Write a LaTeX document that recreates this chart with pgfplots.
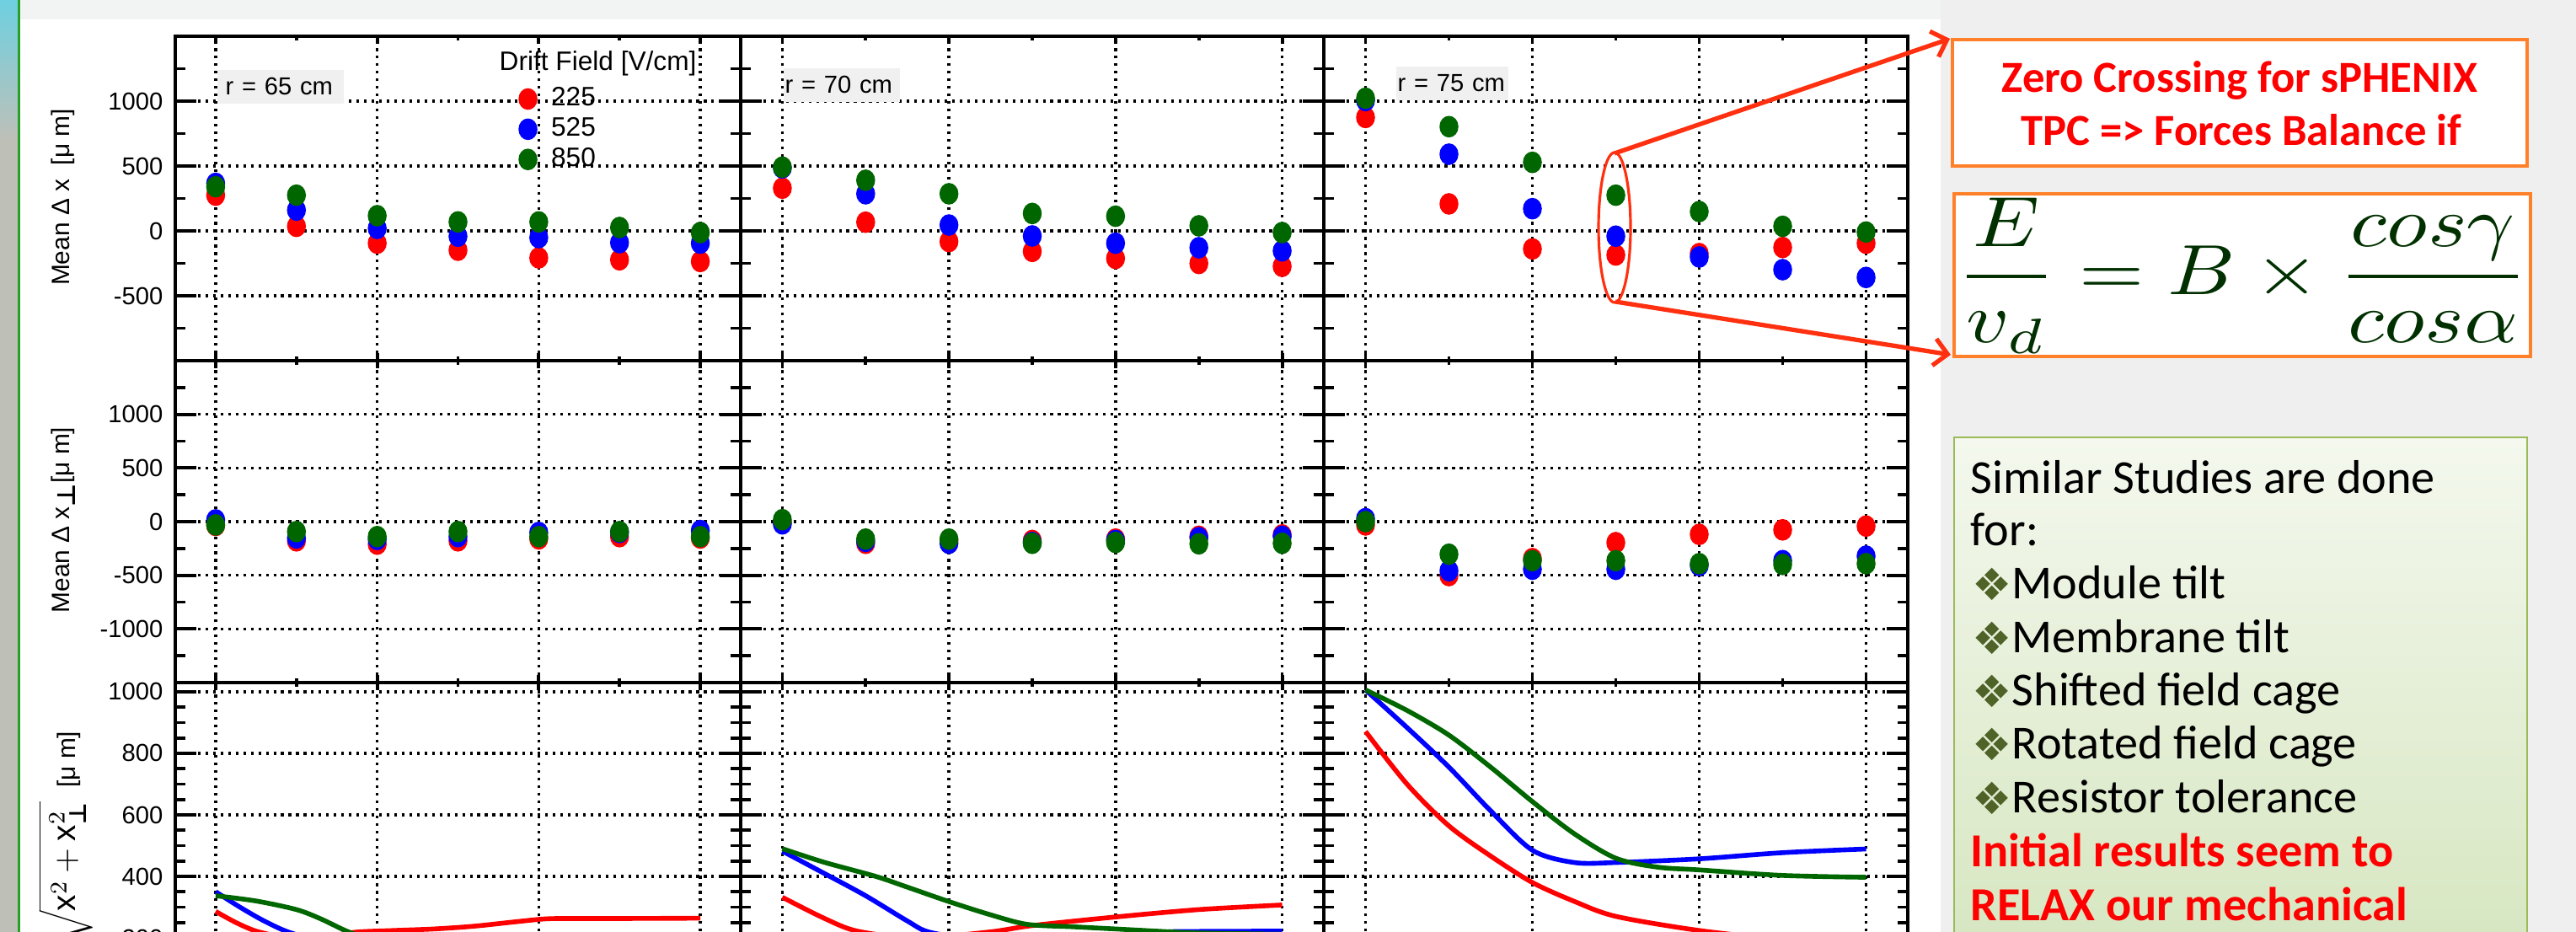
\documentclass[border=0pt]{standalone}
\usepackage{graphicx}
\usepackage{pgfplots}
\pgfplotsset{compat=1.18}
\usepackage{pgfplotstable}
\usepackage{fontspec}
\setmainfont{Liberation Sans}
\newfontfamily\carlito{Carlito}
\newfontfamily\dejavu{DejaVu Sans}
\usetikzlibrary{arrows.meta}

\definecolor{rred}{RGB}{255,0,0}
\definecolor{rblue}{RGB}{0,0,255}
\definecolor{rgreen}{RGB}{0,102,0}
\definecolor{boxorange}{RGB}{255,128,40}
\definecolor{arrowred}{RGB}{255,48,16}
\definecolor{eqgreen}{RGB}{0,48,0}
\definecolor{bulletolive}{RGB}{79,98,40}
\definecolor{slidegray}{RGB}{239,239,239}
\definecolor{topgray}{RGB}{242,243,243}
\definecolor{leftgray}{RGB}{190,192,184}
\definecolor{tealbg}{RGB}{110,208,224}
\definecolor{linegreen}{RGB}{40,160,40}
\definecolor{paveg}{RGB}{240,240,240}
\definecolor{boxtop}{RGB}{244,248,238}
\definecolor{boxbot}{RGB}{214,230,192}
\definecolor{boxline}{RGB}{155,187,89}

% ---------- data: mean Delta x (row 1) ----------
\pgfplotstableread{
x r b g
0 275 366 340
1 35 160 275
2 -95 19 117
3 -149 -41 69
4 -208 -52 69
5 -223 -91 26
6 -236 -95 -13
}\tAa
\pgfplotstableread{
x r b g
0 329 485 491
1 67 286 390
2 -82 45 286
3 -158 -39 134
4 -212 -95 113
5 -251 -130 39
6 -273 -154 -13
}\tAb
\pgfplotstableread{
x r b g
0 874 1004 1022
1 208 591 803
2 -139 171 528
3 -186 -41 275
4 -175 -201 149
5 -128 -299 35
6 -95 -359 -9
}\tAc
% ---------- data: mean Delta x_perp (row 2) ----------
\pgfplotstableread{
x r b g
0 -36 16 -31
1 -179 -153 -93
2 -210 -166 -140
3 -179 -140 -93
4 -161 -101 -140
5 -140 -101 -93
6 -153 -83 -140
}\tBa
\pgfplotstableread{
x r b g
0 -8 -21 18
1 -202 -184 -163
2 -176 -202 -163
3 -176 -194 -202
4 -163 -176 -194
5 -137 -150 -207
6 -124 -137 -202
}\tBb
\pgfplotstableread{
x r b g
0 -31 28 0
1 -503 -458 -304
2 -345 -444 -364
3 -196 -444 -364
4 -119 -409 -392
5 -77 -364 -399
6 -42 -322 -392
}\tBc

\pgfplotsset{
 panel/.style={
  scale only axis, anchor=south west,
  xmin=-0.5, xmax=6.5,
  xtick={0,2,4,6}, minor xtick={1,3,5}, xticklabels={},
  tick align=inside, tick pos=both,
  axis line style={line width=1.4pt},
  tick style={black, line width=1.1pt},
  xtick style={/pgfplots/major tick length=0.09cm, /pgfplots/minor tick length=0.05cm},
  ytick style={/pgfplots/major tick length=0.25cm, /pgfplots/minor tick length=0.12cm},
  xmajorgrids, ymajorgrids,
  major grid style={black, line width=1pt, dash pattern=on 0.9pt off 1.65pt},
  yticklabel style={font=\fontsize{8.3}{9}\selectfont, inner sep=0pt, xshift=-0.14cm},
 },
 rowA/.style={height=3.85cm, ymin=-1000, ymax=1500, ytick={-500,0,500,1000}, minor ytick={-750,-250,250,750,1250}},
 rowB/.style={height=3.82cm, ymin=-1500, ymax=1500, ytick={-1000,-500,0,500,1000}, minor ytick={-1250,-750,-250,250,750,1250}},
 rowC/.style={height=3.76cm, ymin=0, ymax=1030, ytick={0,200,400,600,800,1000}, minor ytick={50,100,150,250,300,350,450,500,550,650,700,750,850,900,950}},
 pts/.style={only marks, mark=*, mark size=3.0pt, mark options={yscale=1.15}},
 crv/.style={no marks, smooth, line width=1.6pt},
}

\begin{document}
\begin{tikzpicture}[x=1cm,y=1cm]
\useasboundingbox (0,0) rectangle (30.57,11.06);
\clip (0,0) rectangle (30.57,11.06);
% ---------- slide background ----------
\fill[white] (0,0) rectangle (30.57,11.06);
\fill[slidegray] (23.03,0) rectangle (30.57,11.06);
\fill[topgray] (0.245,10.83) rectangle (23.03,11.06);
\fill[leftgray] (0,0) rectangle (0.215,11.06);
\shade[top color=tealbg, bottom color=leftgray] (0,9.4) rectangle (0.215,11.06);
\fill[linegreen] (0.215,0) rectangle (0.245,11.06);

% ================= ROW 1 =================
\begin{axis}[panel, rowA, at={(2.08cm,6.78cm)}, width=6.71cm,
  yticklabels={-500,0,500,1000},
  legend style={at={(0.607,0.849)}, anchor=north west, draw=none, fill=none,
    inner sep=0pt, row sep=0.045cm, font=\fontsize{9}{10}\selectfont,
    nodes={inner sep=0.02cm}},
  legend image code/.code={\draw[#1] plot coordinates {(0.11cm,0cm)};}]
\addplot[pts, rred] table[x=x,y=r]{\tAa};
\addplot[pts, rblue] table[x=x,y=b]{\tAa};
\addplot[pts, rgreen] table[x=x,y=g]{\tAa};
\legend{\hspace{0.15cm}225,\hspace{0.15cm}525,\hspace{0.15cm}850}
\end{axis}
\begin{axis}[panel, rowA, at={(8.79cm,6.78cm)}, width=6.92cm, yticklabels={}]
\addplot[pts, rred] table[x=x,y=r]{\tAb};
\addplot[pts, rblue] table[x=x,y=b]{\tAb};
\addplot[pts, rgreen] table[x=x,y=g]{\tAb};
\end{axis}
\begin{axis}[panel, rowA, at={(15.71cm,6.78cm)}, width=6.93cm, yticklabels={}]
\addplot[pts, rred] table[x=x,y=r]{\tAc};
\addplot[pts, rblue] table[x=x,y=b]{\tAc};
\addplot[pts, rgreen] table[x=x,y=g]{\tAc};
\end{axis}

% ================= ROW 2 =================
\begin{axis}[panel, rowB, at={(2.08cm,2.96cm)}, width=6.71cm,
  yticklabels={-1000,-500,0,500,1000}]
\addplot[pts, rred] table[x=x,y=r]{\tBa};
\addplot[pts, rblue] table[x=x,y=b]{\tBa};
\addplot[pts, rgreen] table[x=x,y=g]{\tBa};
\end{axis}
\begin{axis}[panel, rowB, at={(8.79cm,2.96cm)}, width=6.92cm, yticklabels={}]
\addplot[pts, rred] table[x=x,y=r]{\tBb};
\addplot[pts, rblue] table[x=x,y=b]{\tBb};
\addplot[pts, rgreen] table[x=x,y=g]{\tBb};
\end{axis}
\begin{axis}[panel, rowB, at={(15.71cm,2.96cm)}, width=6.93cm, yticklabels={}]
\addplot[pts, rred] table[x=x,y=r]{\tBc};
\addplot[pts, rblue] table[x=x,y=b]{\tBc};
\addplot[pts, rgreen] table[x=x,y=g]{\tBc};
\end{axis}

% ================= ROW 3 =================
\begin{axis}[panel, rowC, at={(2.08cm,-0.80cm)}, width=6.71cm,
  yticklabels={0,200,400,600,800,1000}]
\addplot[crv, rred] table {
x y
0 286
0.25 250
0.5 222
0.8 205
1.1 200
1.4 206
1.75 219
2.2 224
2.7 229
3.2 238
3.7 252
4.1 262
4.5 263
5 263
6 264
};
\addplot[crv, rblue] table {
x y
0 350
0.3 300
0.6 255
0.9 219
1.3 190
1.7 172
2.5 162
4 160
6 165
};
\addplot[crv, rgreen] table {
x y
0 337
0.5 320
1 292
1.3 262
1.65 219
2 192
2.5 180
3 176
4 175
6 175
};
\end{axis}
\begin{axis}[panel, rowC, at={(8.79cm,-0.80cm)}, width=6.92cm, yticklabels={}]
\addplot[crv, rred] table {
x y
0 332
0.5 264
0.9 222
1.6 200
2.48 219
3 240
4 268
5 292
6 307
};
\addplot[crv, rblue] table {
x y
0 482
0.5 410
1 337
1.5 255
1.76 219
2.3 197
3 190
4 202
4.6 219
5 221
6 222
};
\addplot[crv, rgreen] table {
x y
0 490
0.5 446
1.12 400
1.5 365
2 318
2.5 275
2.94 244
3.5 236
4 229
4.7 219
5 216
6 212
};
\end{axis}
\begin{axis}[panel, rowC, at={(15.71cm,-0.80cm)}, width=6.93cm, yticklabels={}]
\addplot[crv, rred] table {
x y
0 871
0.5 699
1 564
1.5 466
2 380
2.5 319
3 270
4 224
5 195
6 175
};
\addplot[crv, rblue] table {
x y
0 1006
0.5 883
1 755
1.5 613
2 485
2.5 445
3 445
4 457
5 477
6 489
};
\addplot[crv, rgreen] table {
x y
0 1006
0.5 939
1 859
1.5 755
2 643
2.5 539
3 459
3.5 430
4 421
5 403
6 397
};
\end{axis}

% ---------- axis titles ----------
\node[rotate=90, font=\fontsize{8.5}{9}\selectfont] at (0.75,8.72) {Mean Δ x\ \ [μ m]};
\node[rotate=90, font=\fontsize{8.5}{9}\selectfont] at (0.75,4.89) {Mean Δ x\raisebox{-0.45ex}{\dejavu\bfseries ⊥}[μ m]};
\node[rotate=90, font=\fontsize{8.5}{9}\selectfont] at (0.78,1.14) {{\fontsize{11}{13}\selectfont$\sqrt{\mbox{x}^{2}+\mbox{x}^{2}_{\mbox{\dejavu\bfseries\fontsize{8}{8}\selectfont ⊥}}}$}\ \ [μ m]};

% ---------- pad labels ----------
\node[anchor=north west, fill=paveg, minimum height=0.40cm, text width=1.30cm, inner xsep=0.10cm, inner ysep=0pt, align=left, font=\fontsize{8.3}{9}\selectfont] at (2.57,10.24) {r = 65 cm};
\node[anchor=north west, fill=paveg, minimum height=0.40cm, text width=1.34cm, inner xsep=0.02cm, inner ysep=0pt, align=left, font=\fontsize{8.3}{9}\selectfont] at (9.29,10.26) {r = 70 cm};
\node[anchor=north west, fill=paveg, minimum height=0.40cm, text width=1.29cm, inner xsep=0.02cm, inner ysep=0pt, align=left, font=\fontsize{8.3}{9}\selectfont] at (16.56,10.28) {r = 75 cm};
\node[anchor=base west, inner sep=0pt, font=\fontsize{9}{10}\selectfont] at (5.92,10.22) {Drift Field [V/cm]};

% ---------- right-hand boxes ----------
\draw[boxorange, line width=1.2pt, fill=white] (23.17,9.09) rectangle (29.99,10.59);
\node[anchor=base, inner sep=0pt, text=rred, font=\carlito\bfseries\fontsize{15}{18}\selectfont] at (26.58,9.96) {Zero Crossing for sPHENIX};
\node[anchor=base, inner sep=0pt, text=rred, font=\carlito\bfseries\fontsize{15}{18}\selectfont] at (26.60,9.33) {TPC => Forces Balance if};

\draw[boxorange, line width=1.2pt, fill=white] (23.19,6.83) rectangle (30.03,8.76);
\node[inner sep=0pt, text=eqgreen] at (26.61,7.79) {\resizebox*{6.78cm}{1.85cm}{$\displaystyle\frac{E}{v_d}=B\times\frac{cos\gamma}{cos\alpha}$}};

\shade[top color=boxtop, bottom color=boxbot] (23.19,-0.3) rectangle (29.99,5.87);
\draw[boxline, line width=0.6pt] (23.19,-0.3) rectangle (29.99,5.87);
\begin{scope}[every node/.style={anchor=base west, inner sep=0pt, font=\carlito\fontsize{16}{19}\selectfont}]
\node at (23.38,5.20) {Similar Studies are done};
\node at (23.38,4.58) {for:};
\node at (23.87,3.95) {Module tilt};
\node at (23.87,3.31) {Membrane tilt};
\node at (23.87,2.68) {Shifted field cage};
\node at (23.87,2.05) {Rotated field cage};
\node at (23.87,1.41) {Resistor tolerance};
\node[text=rred, font=\carlito\bfseries\fontsize{16}{19}\selectfont] at (23.38,0.77) {Initial results seem to};
\node[text=rred, font=\carlito\bfseries\fontsize{16}{19}\selectfont] at (23.38,0.13) {RELAX our mechanical};
\foreach \yy in {3.95,3.31,2.68,2.05,1.41}
  \node[text=bulletolive, font=\dejavu\fontsize{15}{17}\selectfont] at (23.40,\yy-0.02) {❖};
\end{scope}

% ---------- annotation ----------
\draw[arrowred, line width=0.9pt] (19.16,8.36) ellipse [x radius=0.19, y radius=0.89];
\draw[arrowred, line width=1.5pt, -{Straight Barb[length=0.16cm, width=0.32cm]}] (19.16,9.24) -- (23.14,10.60);
\draw[arrowred, line width=1.5pt, -{Straight Barb[length=0.16cm, width=0.32cm]}] (19.17,7.48) -- (23.15,6.85);
\end{tikzpicture}
\end{document}
